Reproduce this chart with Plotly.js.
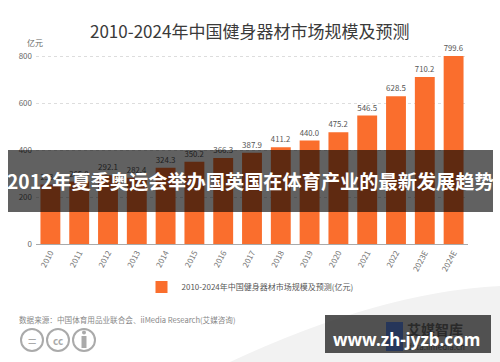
<!DOCTYPE html>
<html>
<head>
<meta charset="utf-8">
<script src="https://cdn.plot.ly/plotly-3.0.1.min.js"></script>
<style>
html,body{margin:0;padding:0;background:#fff;}
#chart{width:500px;height:362px;}
</style>
</head>
<body>
<div id="chart"></div>
<script>
const years = ['2010','2011','2012','2013','2014','2015','2016','2017','2018','2019','2020','2021','2022','2023E','2024E'];
const marketSize = [253.0,265.8,292.1,282.4,324.3,350.2,366.3,387.9,411.2,440.0,475.2,546.5,628.5,710.2,799.6];
const yTicks = [0,200,400,600,800];
const seriesName = '2010-2024年中国健身器材市场规模及预测(亿元)';
const titleText = '2010-2024年中国健身器材市场规模及预测';
const unitText = '亿元';
const sourceText = '数据来源：中国体育用品业联合会、iiMedia Research(艾媒咨询)';
const bannerText = '2012年夏季奥运会举办国英国在体育产业的最新发展趋势';
const watermarkText = 'www.zh-jyzb.com';

const L = 36, W = 432, T = 45, BOT = 244, H = BOT - T;
const px = x => (x - L) / W;
const py = y => (BOT - y) / H;
const FONT = '"Noto Sans CJK SC", "Noto Sans", sans-serif';

const trace = {
  type: 'bar',
  x: years,
  y: marketSize,
  name: seriesName,
  marker: {color: '#FA6E2D'},
  texttemplate: '%{y:.1f}',
  textposition: 'outside',
  textfont: {size: 8, color: '#555'},
  cliponaxis: false,
  hoverinfo: 'none'
};

const circ = (cx, cy, r, extra) => Object.assign({
  type: 'circle', xref: 'paper', yref: 'paper',
  x0: px(cx - r), x1: px(cx + r), y0: py(cy + r), y1: py(cy - r),
  line: {color: '#aaa', width: 2}, fillcolor: 'rgba(0,0,0,0)', layer: 'above'
}, extra || {});
const rect = (x0, y0, x1, y1, color, layer) => ({
  type: 'rect', xref: 'paper', yref: 'paper', layer: layer || 'above',
  x0: px(x0), x1: px(x1), y0: py(y1), y1: py(y0), fillcolor: color, line: {width: 0}
});

const shapes = [
  {type: 'path', xref: 'paper', yref: 'paper', layer: 'below',
   path: `M ${px(230)},${py(362)} Q ${px(380)},${py(292)} ${px(500)},${py(286)} L ${px(500)},${py(362)} Z`,
   fillcolor: '#f2f2f2', line: {width: 0}},
  circ(32, 340, 11), circ(58, 340, 11), circ(84, 340, 11),
  circ(84, 332.5, 2, {fillcolor: '#aaa', line: {width: 0}}),
  rect(81.5, 336, 86.5, 348, '#aaa'),
  // banner band
  rect(8, 150, 493, 212, 'rgba(0,0,0,0.62)'),
  // watermark box
  rect(325, 315, 491, 353, 'rgba(40,40,40,0.8)'),
  // logo icon seen through the box
  rect(386, 322, 403, 351, '#26365a')
];

const ann = (x, y, text, font, extra) => Object.assign({
  xref: 'paper', yref: 'paper', x: px(x), y: py(y), text: text,
  xanchor: 'center', yanchor: 'middle',
  showarrow: false, font: Object.assign({family: FONT}, font)
}, extra || {});

const annotations = [
  ann(249, 31, titleText, {size: 17, color: '#3a3a3a'}),
  ann(35, 42, unitText, {size: 8, color: '#666'}),
  ann(17, 319, sourceText, {size: 7.6, color: '#888'}, {xanchor: 'left'}),
  ann(32, 340, '=', {size: 15, color: '#aaa'}),
  ann(58, 340, 'cc', {size: 10, color: '#aaa', weight: 'bold'}),
  ann(405, 329, '艾媒智库', {size: 14, color: '#2a2a2a', weight: 'bold'}, {xanchor: 'left'}),
  ann(405, 346, 'data.iimedia.cn', {size: 8, color: '#2a2a2a'}, {xanchor: 'left'}),
  ann(250.5, 181, bannerText, {size: 19.2, color: '#fff', weight: 'bold'}),
  ann(406, 339, watermarkText, {size: 17, color: '#fff', weight: 'bold', family: '"Noto Sans", "DejaVu Sans", sans-serif'})
];

const layout = {
  width: 500, height: 362,
  margin: {l: L, r: 500 - L - W, t: T, b: 362 - BOT, pad: 0},
  paper_bgcolor: '#fff', plot_bgcolor: '#fff',
  font: {family: FONT, color: '#666'},
  bargap: 0.31,
  showlegend: true,
  legend: {orientation: 'h', x: px(250), xanchor: 'center', y: py(287), yanchor: 'middle',
           font: {size: 8, color: '#555'}, bgcolor: 'rgba(0,0,0,0)'},
  xaxis: {type: 'category', range: [-0.5, 14.5], tickangle: -62, tickfont: {size: 8, color: '#777'},
          showline: true, linecolor: '#aaa', linewidth: 1, ticks: '', showgrid: false, fixedrange: true},
  yaxis: {range: [0, 800 * H / 188], tickvals: yTicks, tickfont: {size: 8, color: '#666'},
          showgrid: true, gridcolor: '#ddd', griddash: 'dot', zeroline: false, showline: false,
          ticks: '', ticklabelstandoff: 3, fixedrange: true},
  shapes: shapes,
  annotations: annotations
};

Plotly.newPlot('chart', [trace], layout, {displayModeBar: false, staticPlot: true});
</script>
</body>
</html>
